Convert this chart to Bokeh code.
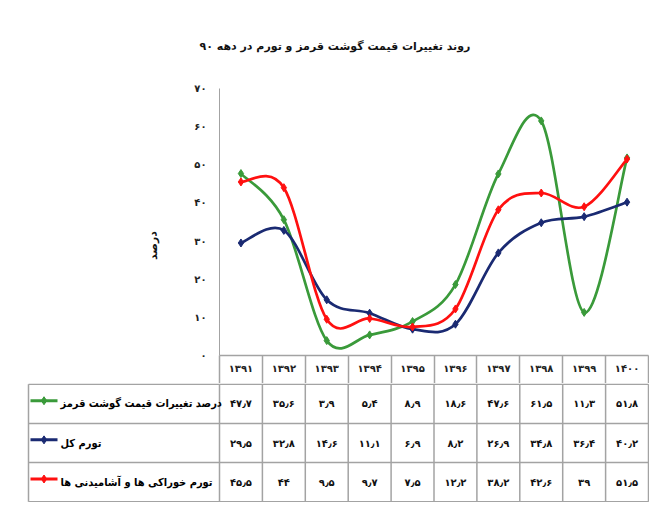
import numpy as np
from bokeh.plotting import figure
from bokeh.layouts import column
from bokeh.models import Range1d, FixedTicker, ColumnDataSource
from bokeh.core.properties import value
from bokeh.embed import file_html
from bokeh.resources import INLINE

# ---------------- data ----------------
years = ["۱۳۹۱", "۱۳۹۲", "۱۳۹۳", "۱۳۹۴", "۱۳۹۵", "۱۳۹۶", "۱۳۹۷", "۱۳۹۸", "۱۳۹۹", "۱۴۰۰"]
meat = [47.7, 35.6, 3.9, 5.4, 8.9, 18.6, 47.6, 61.5, 11.3, 51.8]
total = [29.5, 32.8, 14.6, 11.1, 6.9, 8.2, 26.9, 34.8, 36.4, 40.2]
food = [45.5, 44, 9.5, 9.7, 7.5, 12.2, 38.2, 42.6, 39, 51.5]
series_names = ["درصد تغییرات قیمت گوشت قرمز", "تورم کل", "تورم خوراکی ها و آشامیدنی ها"]
series_values = [meat, total, food]
colors = ["#3a9a3a", "#1a2a72", "#ff1010"]
y_ticks = [0, 10, 20, 30, 40, 50, 60, 70]
title_text = "روند تغییرات قیمت گوشت قرمز و تورم در دهه ۹۰"
y_label = "درصد"

FONT = "DejaVu Sans"
FONT_C = "DejaVu Sans Condensed, DejaVu Sans"
GRID = "#a3a3a3"
FA = str.maketrans("0123456789.", "۰۱۲۳۴۵۶۷۸۹٫")


def fa_num(v):
    return f"{v:g}".translate(FA)


xs = np.arange(1, len(years) + 1)

# ---------------- layout constants (pixels) ----------------
W = 649
TOP_H = 383
FRAME_TOP = 80
AXIS_PANEL = 28
LEFT = 219
RIGHT = 1
unit_px = (W - LEFT - RIGHT) / len(years)
frame_h = TOP_H - AXIS_PANEL - FRAME_TOP
px_per_val = 267 / 70.0
y_end = frame_h / px_per_val

# ---------------- top chart ----------------
p = figure(width=W, height=TOP_H, x_range=Range1d(0.5, len(years) + 0.5),
           y_range=Range1d(0, y_end), output_backend="svg", toolbar_location=None,
           min_border_left=LEFT, min_border_right=RIGHT, min_border_top=FRAME_TOP,
           min_border_bottom=AXIS_PANEL, frame_align=False)
p.outline_line_color = None
p.grid.visible = False

p.title.text = title_text
p.title.align = "left"
p.title.offset = -20
p.title.standoff = 56
p.title.text_font = FONT
p.title.text_font_style = "bold"
p.title.text_font_size = "11px"
p.title.text_color = "#111111"

ya = p.yaxis[0]
ya.ticker = FixedTicker(ticks=y_ticks)
ya.major_label_overrides = {t: fa_num(t) for t in y_ticks}
ya.major_tick_line_color = None
ya.minor_tick_line_color = None
ya.axis_line_color = GRID
ya.bounds = (0, 70)
ya.major_label_text_font = FONT
ya.major_label_text_font_style = "bold"
ya.major_label_text_font_size = "10px"
ya.major_label_text_color = "#222222"
ya.major_label_standoff = 7
ya.axis_label = y_label + "\u2003" * 5
ya.axis_label_text_font = FONT
ya.axis_label_text_font_style = "bold"
ya.axis_label_text_font_size = "11px"
ya.axis_label_text_color = "#111111"
ya.axis_label_standoff = 31

xa = p.xaxis[0]
xa.ticker = FixedTicker(ticks=list(xs), minor_ticks=list(np.arange(0.5, len(years) + 1, 1.0)))
xa.major_label_overrides = {int(i): years[i - 1] for i in xs}
xa.major_tick_line_color = None
xa.major_tick_out = 0
xa.major_tick_in = 0
xa.minor_tick_out = AXIS_PANEL
xa.minor_tick_in = 0
xa.minor_tick_line_color = GRID
xa.minor_tick_line_width = 1.5
xa.axis_line_color = GRID
xa.axis_line_width = 1.5
xa.major_label_text_font = FONT
xa.major_label_text_font_style = "bold"
xa.major_label_text_font_size = "10px"
xa.major_label_text_color = "#222222"
xa.major_label_standoff = -21


def bezier_source(xv, yv):
    n = len(xv)
    P = np.column_stack([xv, yv]).astype(float)
    d = {k: [] for k in ["x0", "y0", "x1", "y1", "cx0", "cy0", "cx1", "cy1"]}
    for i in range(n - 1):
        pp = P[i - 1] if i > 0 else P[i]
        p0 = P[i]
        p1 = P[i + 1]
        pn = P[i + 2] if i + 2 < n else P[i + 1]
        c0 = p0 + (p1 - pp) / 6.0
        c1 = p1 - (pn - p0) / 6.0
        d["x0"].append(p0[0]); d["y0"].append(p0[1])
        d["x1"].append(p1[0]); d["y1"].append(p1[1])
        d["cx0"].append(c0[0]); d["cy0"].append(c0[1])
        d["cx1"].append(c1[0]); d["cy1"].append(c1[1])
    return ColumnDataSource(d)


for vals, col in zip(series_values, colors):
    p.bezier(x0="x0", y0="y0", x1="x1", y1="y1", cx0="cx0", cy0="cy0",
             cx1="cx1", cy1="cy1", source=bezier_source(xs, vals),
             line_color=col, line_width=2.7)
    p.scatter(xs, vals, marker="diamond", size=8, fill_color=col, line_color=col)

# ---------------- data table ----------------
TAB_H = 119
pad = 0.02
x_lo = 0.5 - LEFT / unit_px
x_hi = len(years) + 0.5 + RIGHT / unit_px
t = figure(width=W, height=TAB_H, x_range=Range1d(x_lo, x_hi),
           y_range=Range1d(len(series_names) + pad, -pad), output_backend="svg",
           toolbar_location=None, x_axis_type=None, y_axis_type=None,
           min_border=0, min_border_left=0, min_border_right=0,
           min_border_top=0, min_border_bottom=0, frame_align=False)
t.outline_line_color = None
t.grid.visible = False

n_rows = len(series_names)
tab_left = x_lo + 28 / unit_px
col_edges = list(np.arange(0.5, len(years) + 1, 1.0))
t.segment(x0=[tab_left] * (n_rows + 1), y0=list(range(n_rows + 1)),
          x1=[col_edges[-1]] * (n_rows + 1), y1=list(range(n_rows + 1)),
          line_color=GRID, line_width=1.5)
vx = [tab_left] + col_edges
t.segment(x0=vx, y0=[0] * len(vx), x1=vx, y1=[n_rows] * len(vx),
          line_color=GRID, line_width=1.5)

for r, (name, vals, col) in enumerate(zip(series_names, series_values, colors)):
    yc = r + 0.5
    t.text(x=list(xs), y=[yc] * len(xs), text=[fa_num(v) for v in vals],
           text_align="center", text_baseline="middle", text_font=value(FONT),
           text_font_style="bold", text_font_size="10px", text_color="#111111")
    t.text(x=[x_lo + 60 / unit_px], y=[yc], text=[name], text_align="left",
           text_baseline="middle", text_font=value(FONT_C), text_font_style="bold",
           text_font_size="11px", text_color="#000000")
    lx0 = x_lo + 30 / unit_px
    lx1 = x_lo + 57 / unit_px
    t.segment(x0=[lx0], y0=[yc - 0.08], x1=[lx1], y1=[yc - 0.08], line_color=col, line_width=3)
    t.scatter(x=[(lx0 + lx1) / 2], y=[yc - 0.08], marker="diamond", size=8,
              fill_color=col, line_color=col)

layout = column(p, t, spacing=0)
open("out.html", "w").write(file_html(layout, INLINE))
